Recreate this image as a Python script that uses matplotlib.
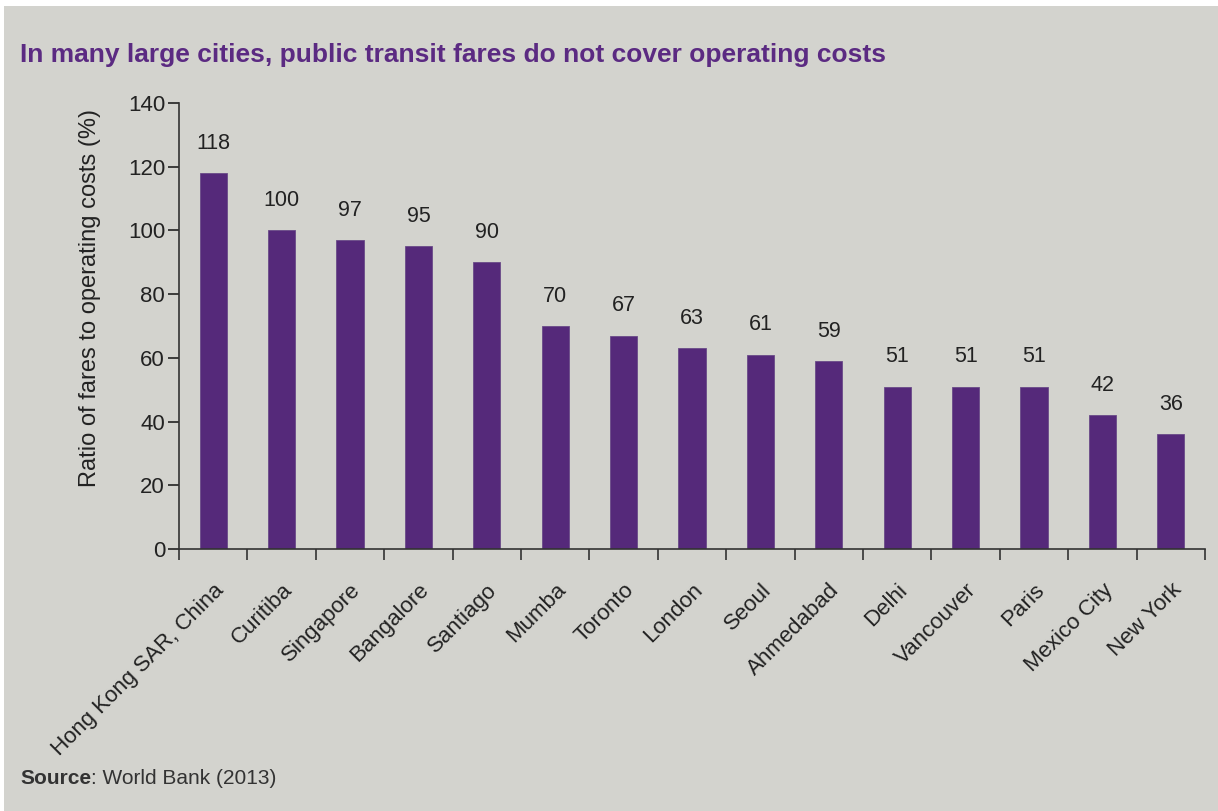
import matplotlib.pyplot as plt
from matplotlib.patches import Rectangle
import numpy as np

plt.rcParams["font.family"] = ["Liberation Sans", "DejaVu Sans"]

cities = [
    "Hong Kong SAR, China", "Curitiba", "Singapore", "Bangalore", "Santiago",
    "Mumba", "Toronto", "London", "Seoul", "Ahmedabad", "Delhi", "Vancouver",
    "Paris", "Mexico City", "New York",
]
ratios = [118, 100, 97, 95, 90, 70, 67, 63, 61, 59, 51, 51, 51, 42, 36]
yticks = [0, 20, 40, 60, 80, 100, 120, 140]

bg = "#d3d3ce"
purple = "#55297a"
ink = "#222222"

fig = plt.figure(figsize=(12.18, 8.11), dpi=100, facecolor=bg)
# white edge strips along the top and left
fig.patches.append(Rectangle((0, 1 - 6 / 811), 1, 6 / 811, transform=fig.transFigure,
                             facecolor="white", edgecolor="none", zorder=0))
fig.patches.append(Rectangle((0, 0), 4 / 1218, 1, transform=fig.transFigure,
                             facecolor="white", edgecolor="none", zorder=0))

ax = fig.add_axes([179 / 1218, 1 - 549 / 811, (1205 - 179) / 1218, (549 - 103) / 811])
ax.set_facecolor(bg)

x = np.arange(len(cities))
ax.bar(x, ratios, width=0.4, color=purple, edgecolor="#6a4a88", linewidth=0.6, zorder=2)

for xi, v in zip(x, ratios):
    ax.annotate(str(v), (xi, v), xytext=(0, 14), textcoords="offset points",
                ha="center", va="bottom", fontsize=15.5, color=ink)

ax.set_xlim(-0.5, len(cities) - 0.5)
ax.set_ylim(0, 140)
ax.set_yticks(yticks)
ax.tick_params(axis="y", labelsize=16, colors=ink, length=8, width=1.2, pad=2)

ax.set_xticks(x)
ax.set_xticklabels(cities, rotation=45, ha="right", rotation_mode="anchor",
                   fontsize=16, color=ink)
ax.tick_params(axis="x", which="major", length=0, pad=22)
ax.set_xticks(np.arange(-0.5, len(cities), 1.0), minor=True)
ax.tick_params(axis="x", which="minor", length=8, width=1.2, color="#333333")

for side in ["top", "right"]:
    ax.spines[side].set_visible(False)
for side in ["left", "bottom"]:
    ax.spines[side].set_color("#333333")
    ax.spines[side].set_linewidth(1.2)

ax.set_ylabel("Ratio of fares to operating costs (%)", fontsize=17, color=ink)
ax.yaxis.set_label_coords(-0.076, 0.563)

fig.text(20 / 1218, 1 - 55 / 811, "In many large cities, public transit fares do not cover operating costs",
         fontsize=19, fontweight="bold", color="#5b2a82", ha="left", va="center")

src = fig.text(20 / 1218, 1 - 778 / 811, "Source", fontsize=15, fontweight="bold",
               color="#333333", ha="left", va="center")
fig.canvas.draw()
bb = src.get_window_extent()
fig.text(bb.x1 / 1218, 1 - 778 / 811, ": World Bank (2013)", fontsize=15,
         color="#333333", ha="left", va="center")

fig.savefig("out.png", dpi=100, facecolor=bg)
